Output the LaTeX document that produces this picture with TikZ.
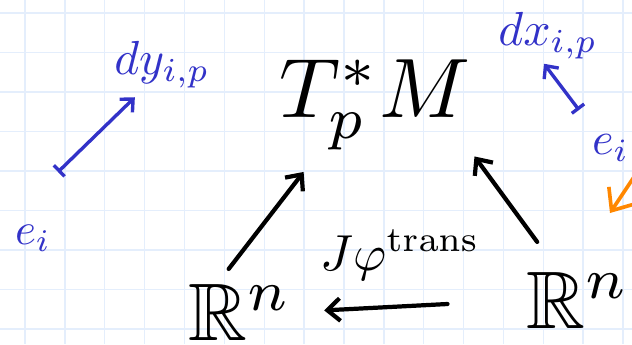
\documentclass[tikz,border=0pt]{standalone}
\usepackage{amssymb}
\usetikzlibrary{arrows.meta}
\definecolor{ink}{RGB}{50,50,200}
\definecolor{gridblue}{RGB}{228,238,252}
\definecolor{hiorange}{RGB}{255,135,0}
\tikzset{
  arr/.style={line width=3pt, line cap=round, -{Straight Barb[length=9pt,width=16pt]}},
  bluearr/.style={ink, line width=2.4pt, line cap=round, {Bar[width=11pt]}-{Straight Barb[length=7pt,width=13pt]}},
  lbl/.style={inner sep=0pt},
}

\begin{document}
\begin{tikzpicture}[x=0.025cm,y=-0.025cm]
    \useasboundingbox (0,0) rectangle (632,344);
    % Grid
    \foreach \gx in {0,...,15}
        \draw[gridblue, line width=1pt] ({25+39.87*\gx},0) -- ({25+39.87*\gx},344);
    \foreach \gy in {0,...,8}
        \draw[gridblue, line width=1pt] (0,{13+39.5*\gy}) -- (632,{13+39.5*\gy});

    % Nodes
    \node[lbl, scale=6] (T) at (375,105) {$T_p^*M$};
    \node[lbl, scale=5.8] (Rl) at (240,312) {$\mathbb{R}^n$};
    \node[lbl, scale=5.8] (Rr) at (578,300) {$\mathbb{R}^n$};
    \node[lbl, scale=3.6] (J) at (400,255) {$J\varphi^{\mathrm{trans}}$};
    \node[lbl, ink, scale=3.4] (dy) at (162,65) {$dy_{i,p}$};
    \node[lbl, ink, scale=3.4] (dx) at (548,36) {$dx_{i,p}$};
    \node[lbl, ink, scale=3.2] (el) at (33,238) {$e_i$};
    \node[lbl, ink, scale=3.3, anchor=east] (er) at (630,148) {$e_i$};
    \coordinate (barL) at (58,172);
    \coordinate (barR) at (579,110);
    \coordinate (oS) at (652,150);
    \coordinate (oE) at (610,213);

    % Arrows
    \draw[arr, shorten <=12pt, shorten >=18pt] (Rl.126) -- (T.220);
    \draw[arr, shorten <=25pt, shorten >=4pt] (Rr.124) -- (T.-26);
    \draw[arr, shorten <=55pt, shorten >=22pt] (Rr.west) -- (Rl.east);
    \draw[bluearr, shorten >=8pt] (barL) -- (dy.232);
    \draw[bluearr, shorten >=3pt] (barR) -- (dx.255);
    \draw[hiorange, line width=2.6pt, line cap=round, -{Straight Barb[length=13pt,width=22pt]}] (oS) -- (oE);

\end{tikzpicture}
\end{document}
